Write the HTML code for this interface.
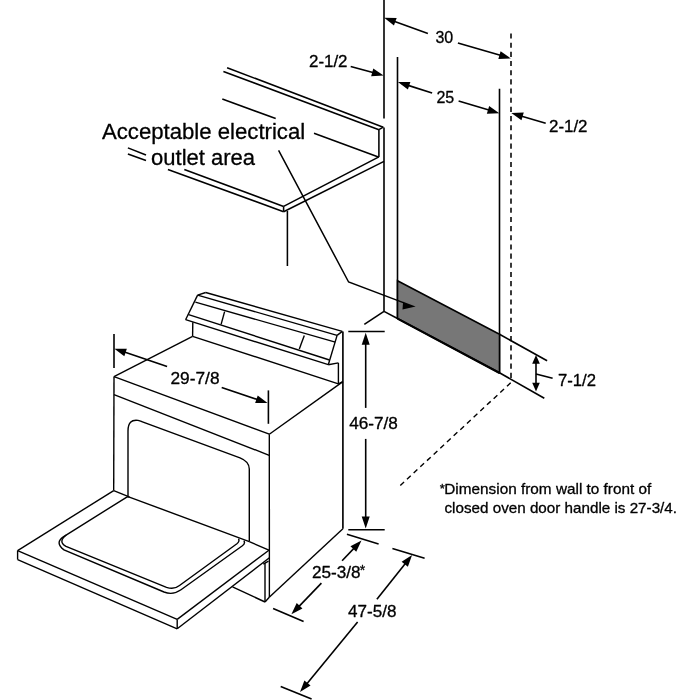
<!DOCTYPE html>
<html><head><meta charset="utf-8"><title>Range installation dimensions</title>
<style>
html,body{margin:0;padding:0;background:#fff;}
body{width:700px;height:700px;overflow:hidden;}
svg{display:block;will-change:transform;opacity:0.999;}
svg text{font-family:"Liberation Sans",sans-serif;fill:#000;stroke:#000;stroke-width:0.3px;stroke-linejoin:round;}
</style></head><body>
<svg width="700" height="700" viewBox="0 0 700 700" stroke="#000" stroke-linecap="butt" fill="none">
<rect x="0" y="0" width="700" height="700" fill="#fff" stroke="none"/>
<line x1="384.00" y1="0.00" x2="384.00" y2="118.60" stroke-width="1.6" />
<line x1="384.00" y1="127.40" x2="384.00" y2="311.40" stroke-width="1.6" />
<line x1="397.50" y1="57.00" x2="397.50" y2="318.50" stroke-width="1.6" />
<line x1="499.50" y1="88.70" x2="499.50" y2="372.80" stroke-width="1.6" />
<line x1="511.00" y1="33.50" x2="511.00" y2="378.00" stroke-width="1.55" stroke-dasharray="5.1 4.07"/>
<line x1="510.70" y1="382.80" x2="400.20" y2="485.50" stroke-width="1.4" stroke-dasharray="5.1 4.0"/>
<line x1="384.00" y1="311.40" x2="364.30" y2="324.30" stroke-width="1.6" />
<line x1="384.00" y1="311.40" x2="397.50" y2="318.50" stroke-width="1.6" />
<polygon points="397.5,280.7 499.5,334.3 499.5,372.8 397.5,318.5" fill="#777777" stroke="#000" stroke-width="1.6"/>
<line x1="397.50" y1="318.70" x2="499.50" y2="373.00" stroke-width="2.0" />
<line x1="499.50" y1="334.30" x2="547.10" y2="360.70" stroke-width="1.6" />
<line x1="499.50" y1="372.80" x2="544.30" y2="398.20" stroke-width="1.6" />
<line x1="536.00" y1="360.00" x2="536.00" y2="386.00" stroke-width="1.6" />
<polygon points="536.00,355.00 539.80,363.80 532.20,363.80" fill="#000" stroke="none"/>
<polygon points="536.00,391.60 532.20,382.80 539.80,382.80" fill="#000" stroke="none"/>
<line x1="536.00" y1="374.00" x2="552.60" y2="378.30" stroke-width="1.6" />
<text x="558" y="386.3" font-size="16" textLength="38" lengthAdjust="spacingAndGlyphs" >7-1/2</text>
<line x1="227.10" y1="67.70" x2="383.30" y2="127.20" stroke-width="1.55" />
<line x1="223.40" y1="71.40" x2="378.90" y2="129.70" stroke-width="1.55" />
<line x1="378.90" y1="129.70" x2="383.30" y2="127.20" stroke-width="1.55" />
<line x1="378.90" y1="129.70" x2="378.90" y2="156.90" stroke-width="1.55" />
<line x1="222.30" y1="99.10" x2="275.70" y2="118.60" stroke-width="1.55" />
<line x1="314.00" y1="133.30" x2="378.40" y2="156.90" stroke-width="1.55" />
<line x1="378.90" y1="156.90" x2="283.60" y2="206.40" stroke-width="1.55" />
<line x1="384.00" y1="161.40" x2="283.60" y2="211.70" stroke-width="1.55" />
<line x1="283.60" y1="206.40" x2="283.60" y2="211.70" stroke-width="1.55" />
<line x1="184.30" y1="169.60" x2="283.60" y2="206.40" stroke-width="1.55" />
<line x1="167.90" y1="169.60" x2="283.60" y2="211.70" stroke-width="1.55" />
<line x1="127.90" y1="147.90" x2="146.00" y2="155.00" stroke-width="1.55" />
<line x1="127.90" y1="153.90" x2="146.00" y2="160.60" stroke-width="1.55" />
<line x1="287.40" y1="211.00" x2="287.40" y2="266.00" stroke-width="1.55" />
<path d="M278.6 150.3 L348.6 282 L404 302.9" stroke-width="1.5" fill="none"/>
<polygon points="415.6,306.5 403.1,301.7 402.5,309.5" fill="#000" stroke="none"/>
<text x="102" y="138.7" font-size="22" textLength="203.2" lengthAdjust="spacingAndGlyphs" >Acceptable electrical</text>
<text x="151.1" y="165" font-size="22" >outlet area</text>
<text x="309" y="67" font-size="16" textLength="38.5" lengthAdjust="spacingAndGlyphs" >2-1/2</text>
<line x1="350.70" y1="66.40" x2="375.64" y2="73.30" stroke-width="1.6" />
<polygon points="383.60,75.50 371.16,76.21 373.29,68.50" fill="#000" stroke="none"/>
<text x="435.4" y="42.9" font-size="16" >30</text>
<line x1="427.90" y1="33.60" x2="391.97" y2="20.61" stroke-width="1.6" />
<polygon points="384.20,17.80 396.66,18.05 393.94,25.57" fill="#000" stroke="none"/>
<line x1="457.90" y1="42.90" x2="502.87" y2="56.08" stroke-width="1.6" />
<polygon points="510.80,58.40 498.35,58.92 500.60,51.24" fill="#000" stroke="none"/>
<text x="436.4" y="103.1" font-size="16" >25</text>
<line x1="432.10" y1="93.10" x2="405.76" y2="84.63" stroke-width="1.6" />
<polygon points="397.90,82.10 410.36,81.91 407.91,89.52" fill="#000" stroke="none"/>
<line x1="458.60" y1="101.00" x2="491.39" y2="110.83" stroke-width="1.6" />
<polygon points="499.30,113.20 486.85,113.64 489.15,105.98" fill="#000" stroke="none"/>
<text x="549" y="132" font-size="16" textLength="38.5" lengthAdjust="spacingAndGlyphs" >2-1/2</text>
<line x1="545.70" y1="123.30" x2="519.22" y2="115.45" stroke-width="1.6" />
<polygon points="511.30,113.10 523.75,112.62 521.48,120.29" fill="#000" stroke="none"/>
<line x1="348.30" y1="331.50" x2="384.70" y2="331.50" stroke-width="1.6" />
<line x1="348.30" y1="529.70" x2="384.70" y2="529.70" stroke-width="1.6" />
<line x1="365.70" y1="340.00" x2="365.70" y2="407.90" stroke-width="1.6" />
<line x1="365.70" y1="438.90" x2="365.70" y2="520.00" stroke-width="1.6" />
<polygon points="365.70,332.80 369.70,344.80 361.70,344.80" fill="#000" stroke="none"/>
<polygon points="365.70,528.60 361.70,516.60 369.70,516.60" fill="#000" stroke="none"/>
<text x="349.3" y="428.8" font-size="16" textLength="48.6" lengthAdjust="spacingAndGlyphs" >46-7/8</text>
<line x1="346.90" y1="534.30" x2="378.60" y2="543.90" stroke-width="1.6" />
<line x1="273.10" y1="608.40" x2="303.60" y2="621.60" stroke-width="1.6" />
<line x1="342.10" y1="560.70" x2="355.79" y2="546.37" stroke-width="1.6" />
<polygon points="361.50,540.40 356.24,551.69 350.46,546.17" fill="#000" stroke="none"/>
<line x1="321.40" y1="583.10" x2="297.13" y2="608.35" stroke-width="1.6" />
<polygon points="291.40,614.30 296.70,603.02 302.46,608.57" fill="#000" stroke="none"/>
<text x="312" y="577.6" font-size="16" textLength="48.6" lengthAdjust="spacingAndGlyphs" >25-3/8</text>
<text x="359.8" y="574.6" font-size="14" >*</text>
<line x1="392.40" y1="548.60" x2="424.60" y2="558.30" stroke-width="1.6" />
<line x1="280.70" y1="686.40" x2="311.60" y2="699.00" stroke-width="1.6" />
<line x1="376.90" y1="599.30" x2="406.96" y2="561.47" stroke-width="1.6" />
<polygon points="412.10,555.00 407.89,566.73 401.63,561.75" fill="#000" stroke="none"/>
<line x1="357.60" y1="622.10" x2="305.25" y2="685.72" stroke-width="1.6" />
<polygon points="300.00,692.10 304.41,680.45 310.59,685.53" fill="#000" stroke="none"/>
<text x="348" y="617.1" font-size="16" textLength="48.4" lengthAdjust="spacingAndGlyphs" >47-5/8</text>
<text x="439.8" y="493.2" font-size="13" >*</text>
<text x="444.3" y="494" font-size="15" textLength="207" lengthAdjust="spacingAndGlyphs" >Dimension from wall to front of</text>
<text x="444.5" y="512.6" font-size="15" textLength="232.5" lengthAdjust="spacingAndGlyphs" >closed oven door handle is 27-3/4.</text>
<line x1="197.60" y1="295.10" x2="205.70" y2="292.50" stroke-width="1.4" />
<line x1="205.70" y1="292.50" x2="342.30" y2="331.40" stroke-width="1.4" />
<line x1="197.60" y1="295.10" x2="337.10" y2="335.40" stroke-width="1.4" />
<line x1="195.40" y1="302.10" x2="335.30" y2="342.10" stroke-width="1.4" />
<line x1="188.60" y1="314.60" x2="329.50" y2="360.00" stroke-width="1.4" />
<line x1="185.60" y1="319.70" x2="328.30" y2="364.70" stroke-width="1.4" />
<line x1="197.60" y1="295.10" x2="185.60" y2="319.70" stroke-width="1.4" />
<line x1="342.30" y1="331.40" x2="337.10" y2="335.40" stroke-width="1.4" />
<line x1="337.10" y1="335.40" x2="328.30" y2="364.70" stroke-width="1.4" />
<line x1="224.60" y1="311.60" x2="221.10" y2="324.40" stroke-width="1.4" />
<line x1="304.30" y1="335.40" x2="299.30" y2="348.90" stroke-width="1.4" />
<line x1="328.30" y1="364.70" x2="338.40" y2="362.90" stroke-width="1.4" />
<line x1="338.40" y1="362.90" x2="338.40" y2="383.80" stroke-width="1.4" />
<line x1="192.80" y1="322.30" x2="192.60" y2="336.30" stroke-width="1.4" />
<line x1="192.60" y1="336.30" x2="338.40" y2="383.80" stroke-width="1.4" />
<line x1="338.40" y1="383.80" x2="342.90" y2="381.60" stroke-width="1.4" />
<line x1="192.60" y1="336.30" x2="114.00" y2="376.60" stroke-width="1.4" />
<line x1="114.00" y1="376.60" x2="269.30" y2="434.20" stroke-width="1.4" />
<line x1="269.30" y1="434.20" x2="342.90" y2="381.60" stroke-width="1.4" />
<line x1="342.90" y1="331.40" x2="342.90" y2="528.80" stroke-width="1.65" />
<line x1="342.90" y1="528.80" x2="269.50" y2="597.00" stroke-width="1.4" />
<line x1="114.00" y1="376.60" x2="113.70" y2="490.60" stroke-width="1.4" />
<line x1="269.30" y1="434.20" x2="269.40" y2="597.00" stroke-width="1.4" />
<line x1="114.00" y1="394.60" x2="269.20" y2="455.30" stroke-width="1.4" />
<path d="M128 496.4 L128 431 Q128 419 138 420.4 Q141 421 142.5 421.9 L240 457.8 Q249.3 461.5 249.3 469 L249.3 541.6" stroke-width="1.4" fill="none"/>
<line x1="114.00" y1="334.00" x2="114.00" y2="368.00" stroke-width="1.6" />
<line x1="268.40" y1="390.40" x2="268.40" y2="423.80" stroke-width="1.6" />
<line x1="167.10" y1="366.40" x2="122.23" y2="351.33" stroke-width="1.6" />
<polygon points="114.40,348.70 126.86,348.67 124.31,356.25" fill="#000" stroke="none"/>
<line x1="221.70" y1="387.40" x2="259.78" y2="400.34" stroke-width="1.6" />
<polygon points="267.60,403.00 255.14,402.99 257.71,395.42" fill="#000" stroke="none"/>
<text x="170.5" y="383.5" font-size="16" textLength="49" lengthAdjust="spacingAndGlyphs" >29-7/8</text>
<line x1="113.70" y1="490.60" x2="128.00" y2="496.40" stroke-width="1.4" />
<line x1="113.70" y1="490.60" x2="17.60" y2="550.60" stroke-width="1.4" />
<line x1="17.60" y1="550.60" x2="17.60" y2="559.60" stroke-width="1.4" />
<line x1="17.60" y1="550.60" x2="177.20" y2="619.40" stroke-width="1.4" />
<line x1="17.60" y1="559.60" x2="177.20" y2="628.80" stroke-width="1.4" />
<line x1="177.20" y1="619.40" x2="177.20" y2="628.80" stroke-width="1.4" />
<line x1="128.00" y1="496.60" x2="249.30" y2="541.60" stroke-width="1.4" />
<line x1="249.30" y1="541.60" x2="268.90" y2="550.20" stroke-width="1.4" />
<line x1="268.90" y1="550.20" x2="177.20" y2="619.40" stroke-width="1.4" />
<line x1="269.40" y1="557.80" x2="177.20" y2="628.80" stroke-width="1.4" />
<path d="M129.6 497.2 Q127.8 496.4 126.4 497.3 L63.3 536.9 Q54.6 542.8 64 549.9 L164 592 Q173 595.5 181 589.8 L242.4 545.8 Q245.6 543.3 243.9 540.6" stroke-width="1.4" fill="none"/>
<path d="M66.3 535 Q57.6 541.6 66 546.4 L166.5 587.3 Q174 590 179.5 585.5 L236.9 543.8 Q240 541.4 238.5 538.7" stroke-width="1.4" fill="none"/>
<line x1="232.50" y1="586.90" x2="265.00" y2="602.00" stroke-width="1.4" />
<line x1="265.00" y1="563.20" x2="265.00" y2="602.00" stroke-width="1.4" />
<line x1="265.00" y1="602.00" x2="269.50" y2="597.00" stroke-width="1.4" />
<line x1="263.30" y1="564.20" x2="268.50" y2="561.20" stroke-width="1.4" />
</svg>
</body></html>
